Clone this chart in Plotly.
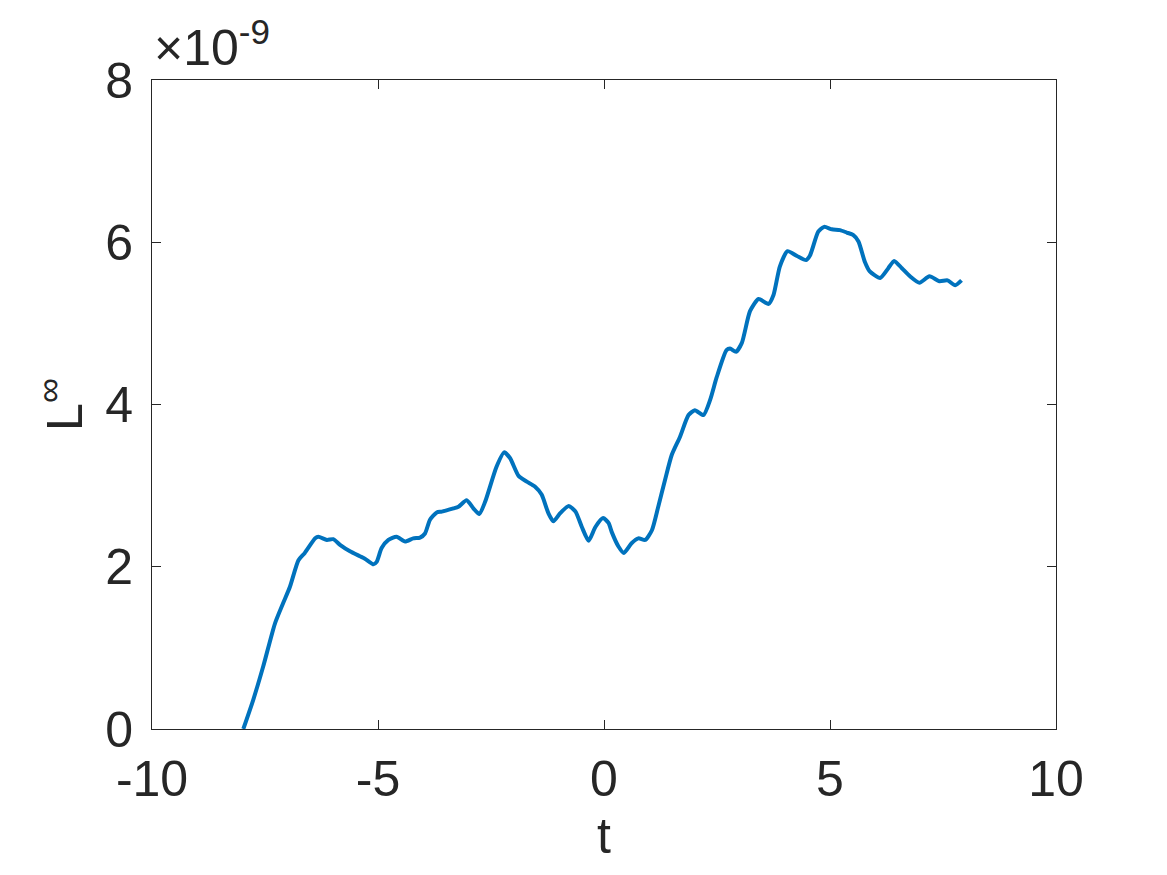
import plotly.graph_objects as go

# values, y in units of 1e-9
t_vals = [
    -7.98, -7.76, -7.54, -7.28, -7.10, -6.95, -6.76, -6.62, -6.39, -6.32,
    -6.13, -5.99, -5.84, -5.62, -5.40, -5.29, -5.10, -5.03, -4.92, -4.77,
    -4.59, -4.40, -4.22, -4.07, -3.96, -3.85, -3.70, -3.59, -3.33, -3.22,
    -3.04, -2.89, -2.76, -2.63, -2.38, -2.21, -2.08, -1.89, -1.71, -1.53,
    -1.38, -1.23, -1.12, -0.97, -0.78, -0.63, -0.49, -0.34, -0.19, -0.02,
    0.10, 0.17, 0.32, 0.44, 0.61, 0.76, 0.91, 1.06, 1.20, 1.35,
    1.50, 1.68, 1.87, 2.01, 2.20, 2.35, 2.49, 2.71, 2.79, 2.92,
    3.05, 3.23, 3.42, 3.64, 3.75, 3.89, 4.06, 4.27, 4.47, 4.56,
    4.74, 4.87, 5.04, 5.22, 5.37, 5.51, 5.63, 5.77, 5.88, 6.11,
    6.29, 6.42, 6.59, 6.77, 6.98, 7.20, 7.42, 7.60, 7.77, 7.91,
]
linf_vals = [
    0.00, 0.36, 0.77, 1.30, 1.55, 1.75, 2.08, 2.17, 2.35, 2.37,
    2.33, 2.34, 2.27, 2.19, 2.13, 2.10, 2.03, 2.06, 2.23, 2.33,
    2.37, 2.31, 2.35, 2.36, 2.41, 2.58, 2.67, 2.68, 2.72, 2.74,
    2.82, 2.72, 2.65, 2.80, 3.23, 3.41, 3.34, 3.12, 3.05, 2.99,
    2.89, 2.66, 2.56, 2.66, 2.75, 2.68, 2.49, 2.32, 2.49, 2.60,
    2.54, 2.43, 2.25, 2.17, 2.29, 2.35, 2.33, 2.45, 2.74, 3.07,
    3.38, 3.60, 3.87, 3.93, 3.87, 4.06, 4.33, 4.67, 4.69, 4.65,
    4.76, 5.15, 5.30, 5.24, 5.35, 5.70, 5.89, 5.83, 5.78, 5.84,
    6.13, 6.19, 6.16, 6.15, 6.12, 6.09, 6.01, 5.76, 5.64, 5.56,
    5.68, 5.77, 5.68, 5.58, 5.50, 5.58, 5.52, 5.53, 5.47, 5.53,
]

x_ticks = [-10, -5, 0, 5, 10]
y_ticks = [0, 2, 4, 6, 8]

FONT = "Liberation Sans, Arial, Helvetica, sans-serif"
INK = "#262626"

fig = go.Figure()

fig.add_trace(
    go.Scatter(
        x=t_vals,
        y=linf_vals,
        mode="lines",
        line=dict(color="#0072BD", width=4, shape="spline", smoothing=0.6),
        showlegend=False,
    )
)

axis_common = dict(
    showline=True,
    linecolor=INK,
    linewidth=1,
    mirror="ticks",
    ticks="inside",
    ticklen=9,
    tickcolor=INK,
    showgrid=False,
    zeroline=False,
    automargin=False,
    tickfont=dict(family=FONT, size=50, color=INK),
)

# page body adds an 8px offset, so the figure is drawn 16px smaller
fig.update_layout(
    width=1151,
    height=859,
    paper_bgcolor="white",
    plot_bgcolor="white",
    font=dict(family=FONT, color=INK),
    margin=dict(l=144, r=103, t=72, b=138),
    xaxis=dict(
        range=[-10, 10],
        tickvals=x_ticks,
        ticktext=[str(v) for v in x_ticks],
        ticklabelstandoff=6,
        **axis_common,
    ),
    yaxis=dict(
        range=[0, 8],
        tickvals=y_ticks,
        ticktext=[str(v) for v in y_ticks],
        title=dict(
            text="L<sup>∞</sup>",
            font=dict(family=FONT, size=50, color=INK),
            standoff=6,
        ),
        ticklabelstandoff=8,
        **axis_common,
    ),
)

# x axis title
fig.add_annotation(
    text="t",
    xref="paper", yref="paper",
    x=0.5, y=0.0,
    xanchor="center", yanchor="top",
    yshift=-78,
    borderpad=0,
    showarrow=False,
    font=dict(family=FONT, size=50, color=INK),
)

# exponent multiplier above the y axis
fig.add_annotation(
    text="×10<sup>-9</sup>",
    xref="paper", yref="paper",
    x=0.0, y=1.0,
    xanchor="left", yanchor="bottom",
    yshift=2,
    showarrow=False,
    font=dict(family=FONT, size=50, color=INK),
)

fig.write_html("out.html")
